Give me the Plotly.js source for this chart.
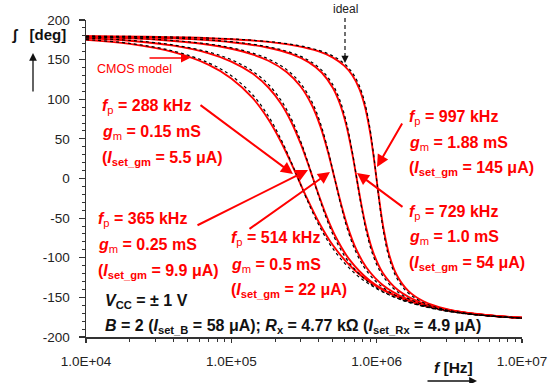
<!DOCTYPE html>
<html>
<head>
<meta charset="utf-8">
<script src="https://cdn.plot.ly/plotly-3.0.1.min.js"></script>
<style>
  html, body { margin: 0; padding: 0; background: #fff; }
  #chart { width: 548px; height: 383px; }
</style>
</head>
<body>
<div id="chart"></div>
<script>
// Phase response of the tunable all-pass section, five bias settings.
// Red: CMOS transistor-level model; black dotted: ideal response.

const freq288 = [1e4, 2e4, 4e4, 7e4, 1e5, 1.4e5, 1.8e5, 2.2e5, 2.6e5, 2.88e5, 3.3e5, 4e5, 5e5, 7e5, 1e6, 1.5e6, 2.5e6, 4e6, 7e6, 1e7];
const cmos288 = [174.9, 169.8, 159.4, 143.4, 126.3, 101.6, 74.5, 46.1, 18.1, 0, -24.1, -55.1, -84.3, -115.2, -136.1, -151.3, -163.0, -169.4, -173.9, -175.8];
const ideal288 = [175.3, 170.5, 160.8, 145.8, 129.7, 105.7, 78.6, 49.2, 19.5, 0, -25.9, -58.7, -88.5, -119.0, -139.0, -153.3, -164.2, -170.2, -174.4, -176.1];

const freq365 = [1e4, 2e4, 4e4, 7e4, 1e5, 1.4e5, 1.8e5, 2.2e5, 2.6e5, 3e5, 3.3e5, 3.65e5, 4e5, 4.5e5, 5.2e5, 6.5e5, 9e5, 1.3e6, 2e6, 3.5e6, 6e6, 1e7];
const cmos365 = [176.9, 173.8, 167.6, 157.9, 147.6, 132.4, 114.8, 94.3, 70.4, 43.9, 23.3, 0, -21.2, -46.6, -72.8, -102.4, -129.1, -146.7, -159.0, -168.2, -173.1, -175.9];
const ideal365 = [177.1, 174.3, 168.5, 159.5, 149.9, 135.5, 118.7, 98.6, 74.5, 47.0, 25.1, 0, -22.8, -49.8, -77.0, -106.6, -132.4, -149.0, -160.5, -169.1, -173.6, -176.2];

const freq514 = [1e4, 3e4, 7e4, 1.2e5, 1.8e5, 2.4e5, 3e5, 3.6e5, 4.1e5, 4.6e5, 5.14e5, 5.7e5, 6.3e5, 7.2e5, 8.5e5, 1.1e6, 1.6e6, 2.5e6, 4.5e6, 1e7];
const cmos514 = [178.4, 175.3, 168.8, 160.3, 148.6, 134.4, 116.1, 91.8, 65.8, 35.1, 0, -32.8, -60.4, -88.6, -112.3, -134.3, -151.7, -162.8, -170.7, -175.8];
const ideal514 = [178.5, 175.6, 169.6, 161.7, 150.8, 137.4, 119.9, 96.1, 69.8, 37.6, 0, -35.2, -64.2, -92.8, -116.1, -137.3, -153.6, -164.0, -171.3, -176.1];

const freq729 = [1e4, 4e4, 1e5, 1.8e5, 2.6e5, 3.4e5, 4.2e5, 5e5, 5.6e5, 6.2e5, 6.8e5, 7.29e5, 7.8e5, 8.5e5, 9.5e5, 1.1e6, 1.4e6, 2e6, 3.2e6, 6e6, 1e7];
const cmos729 = [179.2, 176.8, 172.0, 165.0, 156.9, 146.8, 133.4, 114.1, 93.7, 66.1, 31.1, 0, -30.3, -63.3, -94.0, -118.8, -140.7, -156.3, -166.3, -172.9, -175.8];
const ideal729 = [179.3, 177.1, 172.6, 166.1, 158.6, 149.1, 136.5, 118.1, 98.1, 70.2, 33.5, 0, -32.6, -67.3, -98.3, -122.6, -143.4, -158.0, -167.3, -173.5, -176.1];

const freq997 = [1e4, 5e4, 1.5e5, 2.8e5, 4e5, 5e5, 6e5, 6.8e5, 7.6e5, 8.3e5, 9e5, 9.5e5, 9.97e5, 1.05e6, 1.12e6, 1.22e6, 1.38e6, 1.65e6, 2.1e6, 3e6, 5e6, 1e7];
const cmos997 = [179.6, 177.9, 173.6, 167.3, 160.3, 152.6, 142.1, 130.2, 113.0, 90.8, 58.8, 29.7, 0, -31.8, -65.3, -96.4, -122.4, -141.8, -154.9, -164.5, -171.4, -175.8];
const ideal997 = [179.6, 178.1, 174.1, 168.3, 161.7, 154.6, 144.8, 133.5, 117.0, 95.2, 62.7, 32.0, 0, -34.2, -69.4, -100.7, -126.1, -144.5, -156.7, -165.7, -172.0, -176.1];

const xTickVals = [1e4, 1e5, 1e6, 1e7];
const xTickText = ['1.0E+04', '1.0E+05', '1.0E+06', '1.0E+07'];
const yTickVals = [-200, -150, -100, -50, 0, 50, 100, 150, 200];
const yTickText = ['-200', '-150', '-100', '-50', '0', '50', '100', '150', '200'];

const FONT = 'Arial, "Liberation Sans", sans-serif';
const RED = '#ff0000';

const series = [
  [freq288, cmos288, ideal288],
  [freq365, cmos365, ideal365],
  [freq514, cmos514, ideal514],
  [freq729, cmos729, ideal729],
  [freq997, cmos997, ideal997]
];

const traces = [];
series.forEach(([f, c]) => {
  traces.push({ x: f, y: c, type: 'scatter', mode: 'lines',
    line: { color: RED, width: 1.9, shape: 'spline', smoothing: 1 },
    hoverinfo: 'skip', showlegend: false });
});
series.forEach(([f, c, i]) => {
  traces.push({ x: f, y: i, type: 'scatter', mode: 'lines',
    line: { color: '#000', width: 1.2, dash: 'dot', shape: 'spline', smoothing: 1 },
    hoverinfo: 'skip', showlegend: false });
});

// minor ticks at 2..9 of every decade
const xMinor = [];
for (let d = 4; d < 7; d++) for (let m = 2; m <= 9; m++) xMinor.push(m * Math.pow(10, d));

// plot frame in pixels: x 86..522, y 20..337
const L = 86, R = 522, T = 20, B = 337;
const px = x => (x - L) / (R - L);
const py = y => (B - y) / (B - T);

const annotations = [];
function label(x, y, text, opt = {}) {
  annotations.push({
    xref: 'paper', yref: 'paper', x: px(x), y: py(y),
    xanchor: opt.anchor || 'left', yanchor: 'middle', showarrow: false,
    text: text,
    font: { family: FONT, size: opt.size || 16, color: opt.color || RED, weight: opt.weight || 'bold' }
  });
}
function arrow(tx, ty, sx, sy, color, width) {
  annotations.push({
    xref: 'paper', yref: 'paper', x: px(tx), y: py(ty),
    ax: sx - tx, ay: sy - ty, axref: 'pixel', ayref: 'pixel',
    text: '', showarrow: true, arrowhead: 2, arrowsize: 1.2,
    arrowwidth: width || 2, arrowcolor: color || RED, standoff: 0
  });
}

const n = s => '<span style="font-weight:normal">' + s + '</span>';

// 288 kHz
label(100, 106, '<i>f</i><sub>' + n('p') + '</sub> = 288 kHz');
label(100, 132, '<i>g</i><sub>' + n('m') + '</sub> = 0.15 mS');
label(100, 158, '(<i>I</i><sub>set_gm</sub> = 5.5 μA)');
arrow(293, 174, 199, 104);

// 365 kHz
label(96, 219, '<i>f</i><sub>' + n('p') + '</sub> = 365 kHz');
label(96, 245, '<i>g</i><sub>' + n('m') + '</sub> = 0.25 mS');
label(96, 271, '(<i>I</i><sub>set_gm</sub> = 9.9 μA)');
arrow(308, 170, 196, 226);

// 514 kHz
label(229, 239, '<i>f</i><sub>' + n('p') + '</sub> = 514 kHz');
label(229, 265, '<i>g</i><sub>' + n('m') + '</sub> = 0.5 mS');
label(229, 290, '(<i>I</i><sub>set_gm</sub> = 22 μA)');
arrow(330, 172, 248, 230);

// 997 kHz
label(407, 117, '<i>f</i><sub>' + n('p') + '</sub> = 997 kHz');
label(407, 143, '<i>g</i><sub>' + n('m') + '</sub> = 1.88 mS');
label(407, 168, '(<i>I</i><sub>set_gm</sub> = 145 μA)');
arrow(377, 167, 403, 122);

// 729 kHz
label(407, 212, '<i>f</i><sub>' + n('p') + '</sub> = 729 kHz');
label(407, 237, '<i>g</i><sub>' + n('m') + '</sub> = 1.0 mS');
label(407, 263, '(<i>I</i><sub>set_gm</sub> = 54 μA)');
arrow(357, 173, 404, 208);

// operating conditions
label(103, 301, '<i>V</i><sub>CC</sub> = ± 1 V', { color: '#111' });
label(103, 326, '<i>B</i> = 2 (<i>I</i><sub>set_B</sub> = 58 μA); <i>R</i><sub>x</sub> = 4.77 kΩ (<i>I</i><sub>set_Rx</sub> = 4.9 μA)', { color: '#111' });

// model / ideal markers
label(95, 69, 'CMOS model', { size: 12.5, weight: 'normal' });
arrow(190, 58, 148, 58, RED, 1.5);
label(345, 9, 'ideal', { size: 12, weight: 'normal', color: '#222', anchor: 'center' });
arrow(345, 63, 345, 54, '#111', 1.2);

// axis titles with direction arrows
label(10, 35, '<i>∫</i>\u00a0\u00a0\u00a0[deg]', { color: '#111', size: 15 });
arrow(33, 53, 33, 93, '#111', 1.3);
label(453, 367, '<i>f</i> [Hz]', { color: '#111', anchor: 'center', size: 15.5 });
arrow(477, 381, 426, 381, '#111', 1.3);

const shapes = [{
  type: 'line', xref: 'paper', yref: 'paper',
  x0: px(345), x1: px(345), y0: py(18), y1: py(56),
  line: { color: '#111', width: 1.2, dash: '4px,3px' }
}];

const layout = {
  width: 548, height: 383, autosize: false,
  margin: { l: L, r: 548 - R, t: T, b: 383 - B },
  paper_bgcolor: '#fff', plot_bgcolor: '#fff',
  font: { family: FONT, size: 13.5, color: '#222' },
  showlegend: false,
  xaxis: {
    type: 'log', range: [4, 7],
    tickmode: 'array', tickvals: xTickVals, ticktext: xTickText,
    ticks: 'outside', ticklen: 4, tickwidth: 1.2, tickcolor: '#333',
    showline: true, linecolor: '#333', linewidth: 1.5,
    showgrid: false, zeroline: false, ticklabelstandoff: 7,
    minor: { tickmode: 'array', tickvals: xMinor, ticks: 'outside', ticklen: 3, tickwidth: 1, tickcolor: '#333', showgrid: false },
    tickfont: { family: FONT, size: 13.5, color: '#222' }
  },
  yaxis: {
    range: [-200, 200],
    tickmode: 'array', tickvals: yTickVals, ticktext: yTickText,
    ticks: 'outside', ticklen: 6, tickwidth: 1.2, tickcolor: '#333',
    showline: true, linecolor: '#333', linewidth: 1.5,
    showgrid: false, zeroline: false, ticklabelstandoff: 6,
    minor: { dtick: 10, ticks: 'outside', ticklen: 3, tickwidth: 1, tickcolor: '#333', showgrid: false },
    tickfont: { family: FONT, size: 13.5, color: '#222' }
  },
  annotations: annotations,
  shapes: shapes
};

Plotly.newPlot('chart', traces, layout, { displayModeBar: false, staticPlot: true });
</script>
</body>
</html>
